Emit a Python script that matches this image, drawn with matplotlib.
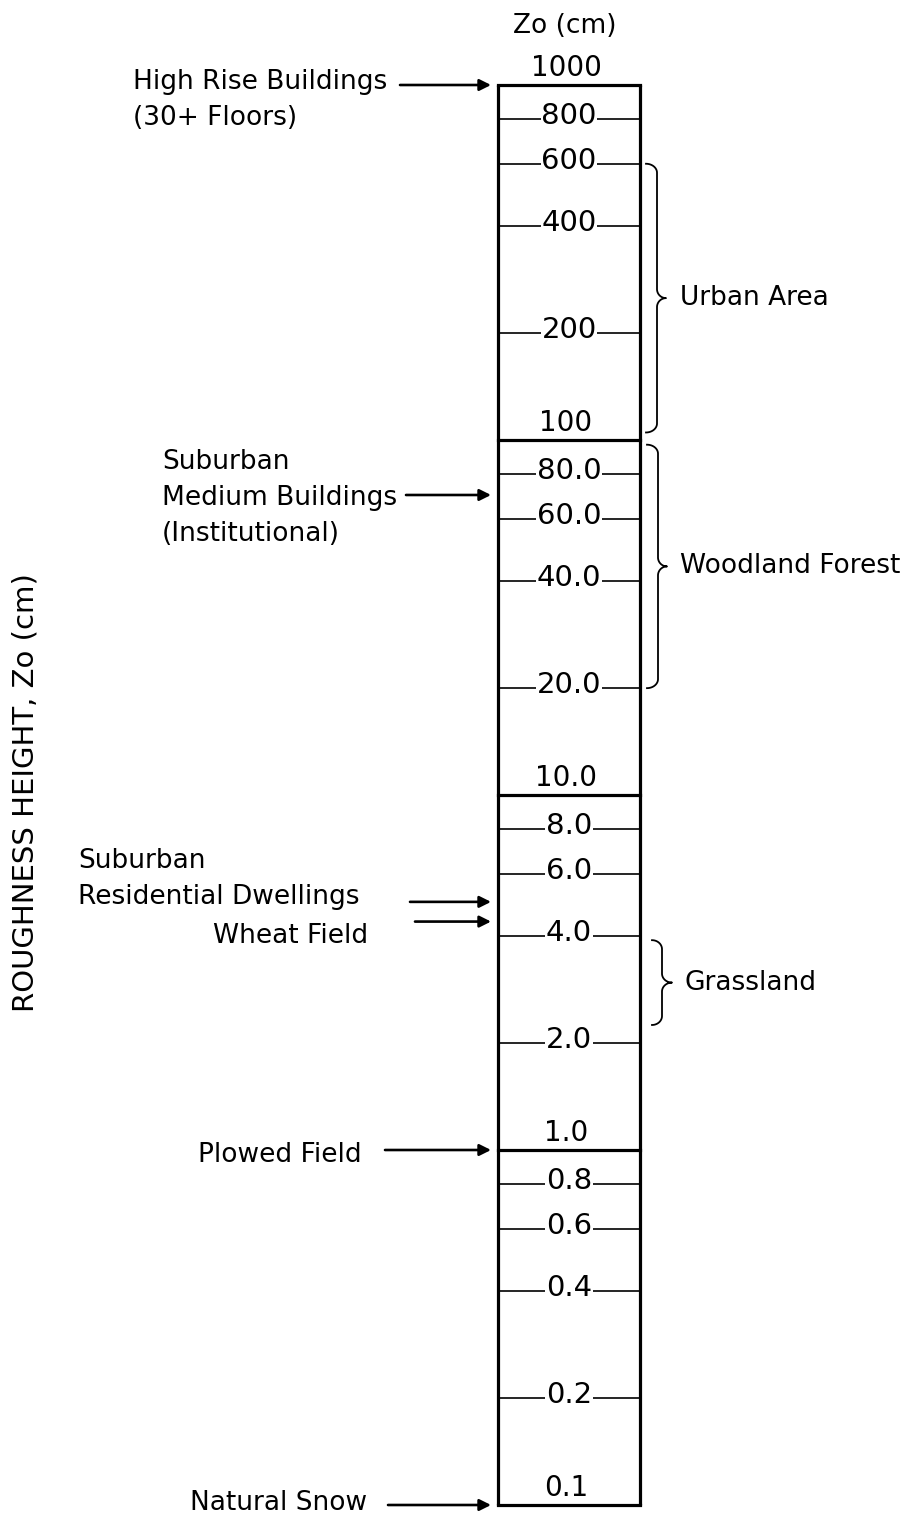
import matplotlib.pyplot as plt
import numpy as np

plt.rcParams['font.family'] = ['DejaVu Sans']

# scale values (cm)
decade_vals = [1000, 100, 10, 1, 0.1]
decade_labels = ['1000', '100', '10.0', '1.0', '0.1']
minor_vals = [800, 600, 400, 200, 80, 60, 40, 20, 8, 6, 4, 2, 0.8, 0.6, 0.4, 0.2]
minor_labels = ['800', '600', '400', '200', '80.0', '60.0', '40.0', '20.0',
                '8.0', '6.0', '4.0', '2.0', '0.8', '0.6', '0.4', '0.2']

# surfaces pointed at by arrows
surfaces = ['High Rise Buildings\n(30+ Floors)',
            'Suburban\nMedium Buildings\n(Institutional)',
            'Suburban\nResidential Dwellings',
            'Wheat Field',
            'Plowed Field',
            'Natural Snow']
surface_zo = [1000, 70, 5.0, 4.4, 1.0, 0.1]

# bracketed ranges
ranges = ['Urban Area', 'Woodland Forest', 'Grassland']
range_low = [105, 20, 2.25]
range_high = [600, 97, 3.9]

fig = plt.figure(figsize=(9.09, 15.20), dpi=100)
ax = fig.add_axes([0, 0, 1, 1])
ax.set_xlim(0, 909)
ax.set_yscale('log')
# 355 px per decade, 1000 at 85 px from top, 0.1 at 1505 px
ax.set_ylim(10 ** (-1 - 15 / 355), 10 ** (3 + 85 / 355))
ax.axis('off')


def ypix(py):
    # pixel row (from top) -> value, for placing text only
    return 10 ** (3 - (py - 85) / 355)


xl, xr = 498, 640
xc = (xl + xr) / 2
FS = 19
TS = 21

# column
ax.plot([xl, xl], [0.1, 1000], color='black', lw=2.3, solid_capstyle='butt')
ax.plot([xr, xr], [0.1, 1000], color='black', lw=2.3, solid_capstyle='butt')
for v, lab in zip(decade_vals, decade_labels):
    ax.plot([xl, xr], [v, v], color='black', lw=2.3)
    ax.annotate(lab, xy=(xc - 3, v), xytext=(0, 9), textcoords='offset pixels',
                ha='center', va='baseline', fontsize=TS - 1)
for v, lab in zip(minor_vals, minor_labels):
    ax.plot([xl, xr], [v, v], color='black', lw=1.2)
    ax.annotate(lab, xy=(xc, v), xytext=(0, -5), textcoords='offset pixels',
                ha='center', va='baseline', fontsize=TS,
                bbox=dict(fc='white', ec='none', pad=0.5))

ax.text(565, ypix(26), 'Zo (cm)', ha='center', va='center', fontsize=FS)
ax.text(26, ypix(793), 'ROUGHNESS HEIGHT, Zo (cm)', rotation=90,
        ha='center', va='center', fontsize=21)

# left labels and arrows
lab_x = [133, 162, 78, 368, 198, 190]
lab_ha = ['left', 'left', 'left', 'right', 'left', 'left']
lab_top = [82, 462, 861, 936, 1155, 1503]   # pixel row of first line
arr_x0 = [400, 406, 410, 415, 385, 388]
for s, z, x, ha, ty, ax0 in zip(surfaces, surface_zo, lab_x, lab_ha, lab_top, arr_x0):
    for i, line in enumerate(s.split('\n')):
        ax.text(x, ypix(ty + i * 36), line, ha=ha, va='center', fontsize=FS)
    ax.annotate('', xy=(491, z), xytext=(ax0, z),
                arrowprops=dict(arrowstyle='-|>', color='black', lw=1.9,
                                mutation_scale=17, shrinkA=0, shrinkB=0))

# braces
brace_x = [(646, 657, 666), (647, 658, 667), (652, 662, 672)]
text_x = [680, 680, 685]
inv = ax.transData.inverted()
for name, lo, hi, (x0, x1, x2), tx in zip(ranges, range_low, range_high, brace_x, text_x):
    _, ytop = ax.transData.transform((0, hi))
    _, ybot = ax.transData.transform((0, lo))
    ymid = (ytop + ybot) / 2
    r = 9
    t = np.linspace(0, np.pi / 2, 20)
    pts = []
    pts += list(zip(x0 + (x1 - x0) * np.sin(t), ytop - r * (1 - np.cos(t))))
    pts += list(zip(x1 + (x2 - x1) * (1 - np.cos(t)), ymid + r - r * np.sin(t)))
    pts += list(zip(x2 - (x2 - x1) * np.sin(t), ymid - r * (1 - np.cos(t))))
    pts += list(zip(x1 - (x1 - x0) * (1 - np.cos(t)), ybot + r - r * np.sin(t)))
    pts = np.array(pts)
    data = inv.transform(pts)
    ax.plot(pts[:, 0], data[:, 1], color='black', lw=1.3)
    ax.text(tx, 10 ** np.mean(np.log10([lo, hi])), name, ha='left', va='center', fontsize=FS)

fig.savefig('out.png', dpi=100)
